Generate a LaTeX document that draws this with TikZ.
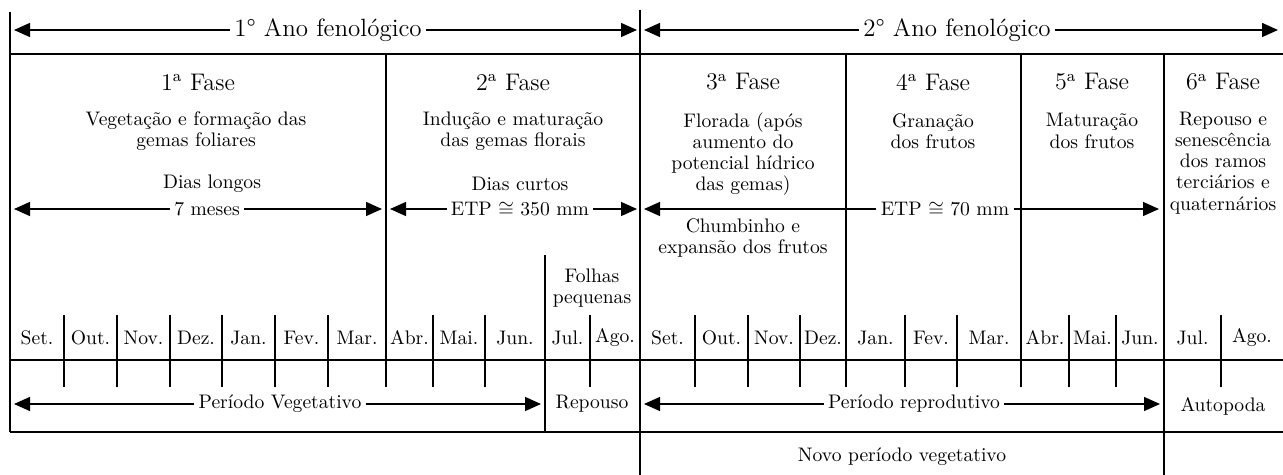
\documentclass[tikz,border=0pt]{standalone}
\usepackage{tikz}
\usetikzlibrary{arrows.meta}
\tikzset{arr/.style = {-{Triangle[length = 8pt, width = 7pt]}, line width = 0.7pt}}
\tikzset{grid/.style = {line width = 0.6pt}}
\tikzset{lbl/.style = {inner sep = 2pt, font = \fontsize{9.8}{10.6}\selectfont}}
\tikzset{txt/.style = {align = center, inner sep = 0, font = \fontsize{9.8}{10.6}\selectfont}}
\tikzset{fase/.style = {inner sep = 0, font = \fontsize{12}{14}\selectfont}}
\tikzset{ano/.style = {inner sep = 2pt, font = \fontsize{12.5}{15}\selectfont}}

\begin{document}
\begin{tikzpicture}[x = 0.5pt, y = -0.5pt]
    \useasboundingbox (0, 0) rectangle (1283, 475);

    \draw [grid] (10, 54) -- (1283, 54);
    \draw [grid] (10, 360) -- (1283, 360);
    \draw [grid] (10, 432) -- (1283, 432);
    \draw [grid] (10, 12) -- (10, 432);
    \draw [grid] (640, 10) -- (640, 475);
    \draw [grid] (1164, 54) -- (1164, 475);
    \draw [grid] (545, 255) -- (545, 432);
    \foreach \x in {386, 846, 1021}
        \draw [grid] (\x, 54) -- (\x, 387);
    \foreach \x in {64, 117, 170, 222, 275, 328, 433, 485, 590, 695, 748, 800, 905, 957, 1069, 1116, 1221}
        \draw [grid] (\x, 315) -- (\x, 387);

    \node [ano] (ano1) at (328, 30) {1° Ano fenológico};
    \node [ano] (ano2) at (957, 30) {2° Ano fenológico};
    \coordinate (ano1l) at (14, 30);
    \coordinate (ano1r) at (637, 30);
    \coordinate (ano2l) at (644, 30);
    \coordinate (ano2r) at (1278, 30);
    \draw [arr] (ano1.west) -- (ano1l);
    \draw [arr] (ano1.east) -- (ano1r);
    \draw [arr] (ano2.west) -- (ano2l);
    \draw [arr] (ano2.east) -- (ano2r);

    \node [fase] (fase1) at (198, 82) {1\textsuperscript{a} Fase};
    \node [fase] (fase2) at (513, 82) {2\textsuperscript{a} Fase};
    \node [fase] (fase3) at (743, 82) {3\textsuperscript{a} Fase};
    \node [fase] (fase4) at (933, 82) {4\textsuperscript{a} Fase};
    \node [fase] (fase5) at (1092, 82) {5\textsuperscript{a} Fase};
    \node [fase] (fase6) at (1223, 82) {6\textsuperscript{a} Fase};

    \node [txt] (desc1) at (196, 131) {Vegetação e formação das\\gemas foliares};
    \node [txt] (desc2) at (513, 131) {Indução e maturação\\das gemas florais};
    \node [txt] (desc3) at (743, 154) {Florada (após\\aumento do\\potencial hídrico\\das gemas)};
    \node [txt] (desc4) at (933, 131) {Granação\\dos frutos};
    \node [txt] (desc5) at (1092, 131) {Maturação\\dos frutos};
    \node [txt] (desc6) at (1223, 163) {Repouso e\\senescência\\dos ramos\\terciários e\\quaternários};

    \node [txt] (dias1) at (212, 184) {Dias longos};
    \node [lbl] (meses) at (207, 209) {7 meses};
    \coordinate (meses1) at (14, 209);
    \coordinate (meses2) at (382, 209);
    \draw [arr] (meses.west) -- (meses1);
    \draw [arr] (meses.east) -- (meses2);

    \node [txt] (dias2) at (520, 184) {Dias curtos};
    \node [lbl] (etp1) at (520, 209) {ETP $\cong$ 350 mm};
    \coordinate (etp1l) at (390, 209);
    \coordinate (etp1r) at (637, 209);
    \draw [arr] (etp1.west) -- (etp1l);
    \draw [arr] (etp1.east) -- (etp1r);

    \node [lbl] (etp2) at (945, 209) {ETP $\cong$ 70 mm};
    \coordinate (etp2l) at (644, 209);
    \coordinate (etp2r) at (1159, 209);
    \draw [arr] (etp2.west) -- (etp2l);
    \draw [arr] (etp2.east) -- (etp2r);

    \node [txt] (chumb) at (743, 238) {Chumbinho e\\expansão dos frutos};
    \node [txt] (folhas) at (592, 288) {Folhas\\pequenas};

    \foreach \m/\x [count = \i] in {Set./37, Out./90.5, Nov./143.5, Dez./196, Jan./248.5, Fev./301.5,
        Mar./357, Abr./409.5, Mai./459, Jun./515, Jul./567.5, Ago./615,
        Set./667.5, Out./721.5, Nov./774, Dez./823, Jan./875.5, Fev./931,
        Mar./989, Abr./1045, Mai./1092.5, Jun./1140, Jul./1192.5, Ago./1252}
        \node [lbl] (mes\i) at (\x, 338) {\m};

    \node [lbl] (veget) at (280, 404) {Período Vegetativo};
    \coordinate (veget1) at (14, 404);
    \coordinate (veget2) at (541, 404);
    \draw [arr] (veget.west) -- (veget1);
    \draw [arr] (veget.east) -- (veget2);
    \node [lbl] (repouso) at (592, 404) {Repouso};

    \node [lbl] (reprod) at (914, 404) {Período reprodutivo};
    \coordinate (reprod1) at (644, 404);
    \coordinate (reprod2) at (1160, 404);
    \draw [arr] (reprod.west) -- (reprod1);
    \draw [arr] (reprod.east) -- (reprod2);
    \node [lbl] (autopoda) at (1223, 406) {Autopoda};

    \node [lbl] (novo) at (902, 457) {Novo período vegetativo};
\end{tikzpicture}
\end{document}
